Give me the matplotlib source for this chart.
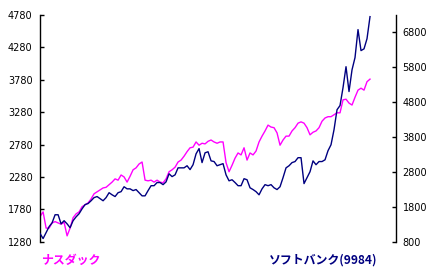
import numpy as np
import matplotlib
matplotlib.use("Agg")
import matplotlib.pyplot as plt

plt.rcParams['font.family'] = ['Noto Sans CJK JP', 'DejaVu Sans']

nasdaq = [1670, 1740, 1490, 1490, 1570, 1590, 1570, 1550, 1580, 1370,
          1490, 1650, 1710, 1740, 1820, 1850, 1880, 1940, 2020, 2050,
          2080, 2110, 2120, 2160, 2200, 2250, 2230, 2310, 2280, 2200,
          2290, 2390, 2420, 2480, 2510, 2230, 2220, 2230, 2200, 2230,
          2200, 2190, 2250, 2360, 2390, 2430, 2510, 2540, 2600, 2670,
          2730, 2740, 2820, 2770, 2800, 2790, 2830, 2850, 2820, 2800,
          2820, 2820, 2500, 2360, 2460, 2570, 2650, 2620, 2730, 2540,
          2650, 2620, 2680, 2820, 2910, 2990, 3080, 3050, 3040, 2960,
          2770, 2850, 2910, 2910, 2990, 3040, 3110, 3130, 3110, 3040,
          2930, 2970, 2990, 3040, 3140, 3190, 3210, 3210, 3240, 3270,
          3270, 3470, 3480, 3420, 3390, 3510, 3620, 3650, 3620, 3750,
          3790]

softbank = [1030, 890, 1060, 1230, 1340, 1570, 1570, 1310, 1400, 1310,
            1200, 1400, 1510, 1600, 1740, 1860, 1890, 1970, 2060, 2090,
            2030, 1970, 2060, 2200, 2140, 2090, 2200, 2230, 2370, 2310,
            2310, 2260, 2290, 2200, 2110, 2110, 2260, 2400, 2400, 2490,
            2490, 2430, 2510, 2740, 2660, 2710, 2910, 2910, 2910, 2970,
            2860, 3000, 3310, 3460, 3060, 3340, 3370, 3110, 3090, 2970,
            3000, 3030, 2710, 2540, 2570, 2490, 2400, 2400, 2600, 2570,
            2340, 2290, 2230, 2140, 2310, 2430, 2400, 2430, 2340, 2290,
            2370, 2630, 2910, 2970, 3060, 3090, 3200, 3200, 2460, 2630,
            2800, 3110, 3000, 3090, 3090, 3140, 3400, 3570, 4000, 4570,
            4690, 5200, 5800, 5090, 5710, 6060, 6860, 6260, 6310, 6600,
            7230]

left_ticks = [1280, 1780, 2280, 2780, 3280, 3780, 4280, 4780]
right_ticks = [800, 1800, 2800, 3800, 4800, 5800, 6800]
label_left = "ナスダック"
label_right = "ソフトバンク(9984)"

W, H = 434, 275
fig = plt.figure(figsize=(W / 100, H / 100), dpi=100)
x0, x1 = 39.5, 395.7
ytop, ybot = 15.0, 241.7
ax = fig.add_axes([x0 / W, 1 - ybot / H, (x1 - x0) / W, (ybot - ytop) / H])
ax2 = ax.twinx()

xn = np.arange(len(nasdaq))
xs = np.arange(len(softbank))
ax.plot(xn, nasdaq, color='#FF00FF', lw=1.0)
ax2.plot(xs, softbank, color='#000080', lw=1.0)

n = max(len(nasdaq), len(softbank)) - 1
ax.set_xlim(-0.2, n * (x1 - 40) / 330)
ax.set_ylim(1280, 4780)
ax2.set_ylim(800, 800 + (ybot - ytop) / 35 * 1000)

for a in (ax, ax2):
    a.set_xticks([])
    a.spines['top'].set_visible(False)
    a.spines['bottom'].set_visible(False)
    a.patch.set_visible(False)
ax.spines['right'].set_visible(False)
ax2.spines['left'].set_visible(False)
for a in (ax, ax2):
    for s in ('left', 'right'):
        a.spines[s].set_linewidth(1.0)
        a.spines[s].set_color('black')

ax.set_yticks(left_ticks)
ax.set_yticklabels([str(t) for t in left_ticks], family='DejaVu Sans')
ax2.set_yticks(right_ticks)
ax2.set_yticklabels([str(t) for t in right_ticks], family='DejaVu Sans')
ax.tick_params(axis='y', direction='in', length=3, width=1, labelsize=7, pad=5)
ax2.tick_params(axis='y', direction='in', length=3, width=1, labelsize=7, pad=5)

fig.text(42 / W, 1 - 260 / H, label_left, color='#FF00FF', fontsize=8.6,
         fontweight='bold', ha='left', va='center')
fig.text(377 / W, 1 - 260 / H, label_right, color='#000080', fontsize=8.6,
         fontweight='bold', ha='right', va='center')

fig.savefig('out.png', dpi=100)
